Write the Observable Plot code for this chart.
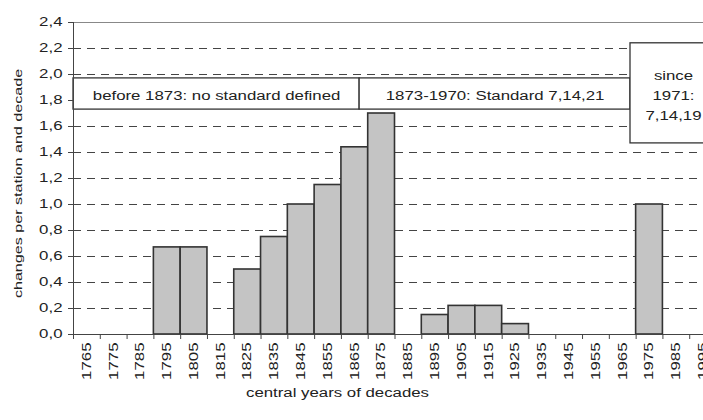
<!DOCTYPE html>
<html>
<head>
<meta charset="utf-8">
<script src="https://cdn.jsdelivr.net/npm/d3@7"></script>
<script src="https://cdn.jsdelivr.net/npm/@observablehq/plot@0.6"></script>
<style>
  html, body { margin: 0; padding: 0; background: #fff; }
</style>
</head>
<body>
<div id="chart"></div>
<script>
// ---- data ----
const decades = [1765, 1775, 1785, 1795, 1805, 1815, 1825, 1835, 1845, 1855, 1865, 1875,
                 1885, 1895, 1905, 1915, 1925, 1935, 1945, 1955, 1965, 1975, 1985, 1995];
const changes = [0, 0, 0, 0.67, 0.67, 0, 0.50, 0.75, 1.00, 1.15, 1.44, 1.70,
                 0, 0.15, 0.22, 0.22, 0.08, 0, 0, 0, 0, 1.00, 0, 0];
const yTicks = [0, 0.2, 0.4, 0.6, 0.8, 1.0, 1.2, 1.4, 1.6, 1.8, 2.0, 2.2, 2.4];
const gridValues = [0.2, 0.4, 0.6, 0.8, 1.0, 1.2, 1.4, 1.6, 1.8, 2.0, 2.2];
const boundaries = d3.range(1760, 2001, 10);

// annotation boxes (periods of observation standards)
const boxText = ["before 1873: no standard defined", "1873-1970: Standard 7,14,21", "since\n1971:\n7,14,19"];
const boxStart = [1760, 1866.8, 1967.9];
const boxEnd = [1866.8, 1967.9, 2000];
const boxLow = [1.73, 1.73, 1.47];
const boxHigh = [1.97, 1.97, 2.24];

const yTitle = "changes per station and decade";
const xTitle = "central years of decades";

// ---- build tables ----
const bars = decades.map((d, i) => ({year: d, value: changes[i]})).filter(d => d.value > 0);
const boxes = boxText.map((t, i) => ({text: t, x1: boxStart[i], x2: boxEnd[i], y1: boxLow[i], y2: boxHigh[i]}));

const fmt = d => d.toFixed(1).replace(".", ",");

const chart = Plot.plot({
  width: 703,
  height: 420,
  marginTop: 22,
  marginBottom: 86,
  marginLeft: 73,
  marginRight: 0,
  style: {fontFamily: "'Liberation Sans', Arial, sans-serif", fontSize: "12px", color: "#222", background: "#fff"},
  x: {type: "linear", domain: [1760, 2000], range: [73, 716]},
  y: {domain: [0, 2.4], range: [334, 22]},
  marks: [
    Plot.ruleY(gridValues, {stroke: "#444", strokeWidth: 1, strokeDasharray: "8,6"}),
    Plot.ruleY([2.4], {stroke: "#888", strokeWidth: 1}),
    Plot.rect(bars, {x1: d => d.year - 5, x2: d => d.year + 5, y1: 0, y2: "value",
      fill: "#c4c4c4", stroke: "#333", strokeWidth: 1.6}),
    Plot.rect(boxes, {x1: "x1", x2: "x2", y1: "y1", y2: "y2", fill: "#fff", stroke: "#333", strokeWidth: 1.3}),
    Plot.text(boxes, {x: d => (d.x1 + d.x2) / 2, y: d => (d.y1 + d.y2) / 2, text: "text",
      fill: "#222", fontSize: 12, lineHeight: 1.67}),
    Plot.ruleY([0], {stroke: "#444", strokeWidth: 1}),
    Plot.ruleX([1760], {y1: 0, y2: 2.4, stroke: "#444", strokeWidth: 1}),
    Plot.axisY({ticks: yTicks, tickFormat: fmt, tickSize: 5, tickPadding: 6, label: null, stroke: "#444"}),
    Plot.axisX({ticks: boundaries, tickFormat: () => "", tickSize: 5, label: null, stroke: "#444"}),
    Plot.axisX({ticks: decades, tickFormat: d => String(d), tickSize: 0, tickPadding: 8, tickRotate: -90, label: null}),
    Plot.text([yTitle], {frameAnchor: "left", textAnchor: "middle", lineAnchor: "middle", rotate: -90,
      dx: -55, dy: 5, fontSize: 11.5, fill: "#222"}),
    Plot.text([xTitle], {frameAnchor: "bottom", textAnchor: "middle", lineAnchor: "middle",
      dx: -51, dy: 59, fontSize: 12, fill: "#222"})
  ]
});

document.getElementById("chart").append(chart);

// widen the glyphs along the baseline to mimic the wide typeface of the original
const S = 1.4;
chart.querySelectorAll("text").forEach(t => {
  const spans = t.querySelectorAll("tspan");
  const els = spans.length ? Array.from(spans) : [t];
  els.forEach(e => {
    const L = e.getComputedTextLength();
    if (L > 0) {
      e.setAttribute("textLength", (L * S).toFixed(1));
      e.setAttribute("lengthAdjust", "spacingAndGlyphs");
    }
  });
});
</script>
</body>
</html>
